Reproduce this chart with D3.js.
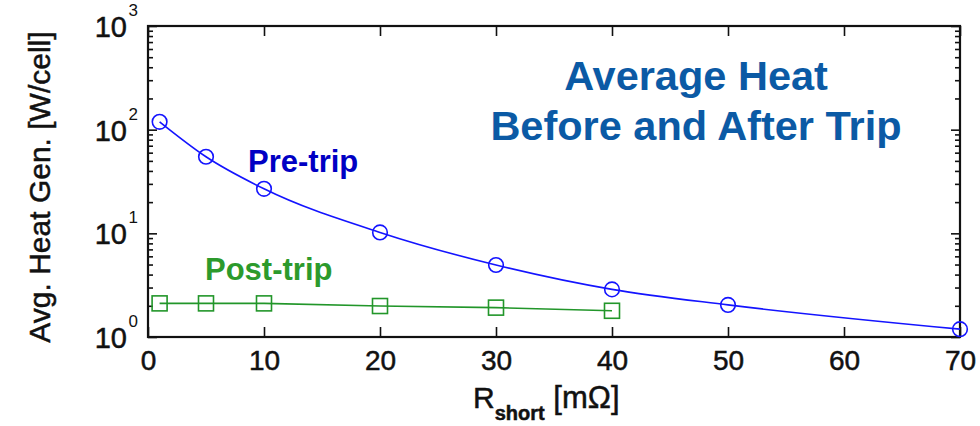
<!DOCTYPE html>
<html>
<head>
<meta charset="utf-8">
<script src="https://cdn.jsdelivr.net/npm/d3@7"></script>
<style>
  html, body { margin: 0; padding: 0; background: #fff; }
  svg { display: block; }
  text { font-family: "Liberation Sans", Arial, sans-serif; }
  .heavy { stroke: #111; stroke-width: 0.5px; }
</style>
</head>
<body>
<svg id="chart" width="980" height="426"></svg>
<script>
// ---- data ----
const preTripR = [1, 5, 10, 20, 30, 40, 50, 70];
const preTripHeat = [119, 54.8, 26.9, 10.2, 4.95, 2.88, 2.04, 1.19];
const postTripR = [1, 5, 10, 20, 30, 40];
const postTripHeat = [2.11, 2.11, 2.11, 1.99, 1.92, 1.79];
const xTickValues = [0, 10, 20, 30, 40, 50, 60, 70];
const yMajorTicks = [1, 10, 100, 1000];
const yMinorTicks = [2,3,4,5,6,7,8,9,20,30,40,50,60,70,80,90,200,300,400,500,600,700,800,900];
const titleLines = ["Average Heat", "Before and After Trip"];
const preLabel = "Pre-trip";
const postLabel = "Post-trip";
const yTitle = "Avg. Heat Gen. [W/cell]";

// ---- layout ----
const L = 148, R = 960, T = 26, B = 337;
const svg = d3.select("#chart");
const x = d3.scaleLinear().domain([0, 70]).range([L, R]);
const y = d3.scaleLog().domain([1, 1000]).range([B, T]);

const blue = "#1414ff", green = "#22962a";

// plot box
svg.append("rect").attr("x", L).attr("y", T).attr("width", R - L).attr("height", B - T)
  .attr("fill", "none").attr("stroke", "#111").attr("stroke-width", 2.2);

function styleAxis(g) {
  g.select(".domain").remove();
  g.selectAll(".tick line").attr("stroke", "#111").attr("stroke-width", 1.6);
}

// x axes (ticks inward)
svg.append("g").attr("transform", `translate(0,${B})`)
  .call(d3.axisBottom(x).tickValues(xTickValues).tickSize(-10).tickPadding(13).tickFormat(d3.format("d")))
  .call(styleAxis)
  .call(g => g.selectAll("text").attr("font-size", 28).attr("fill", "#111").attr("class", "heavy")
    .attr("font-family", "Liberation Sans, Arial, sans-serif"));
svg.append("g").attr("transform", `translate(0,${T})`)
  .call(d3.axisTop(x).tickValues(xTickValues).tickSize(-10).tickFormat(""))
  .call(styleAxis);

// y axes major/minor inward
svg.append("g").attr("transform", `translate(${L},0)`)
  .call(d3.axisLeft(y).tickValues(yMajorTicks).tickSize(-9).tickFormat(""))
  .call(styleAxis);
svg.append("g").attr("transform", `translate(${L},0)`)
  .call(d3.axisLeft(y).tickValues(yMinorTicks).tickSize(-5).tickFormat(""))
  .call(styleAxis);
svg.append("g").attr("transform", `translate(${R},0)`)
  .call(d3.axisRight(y).tickValues(yMajorTicks).tickSize(-9).tickFormat(""))
  .call(styleAxis);
svg.append("g").attr("transform", `translate(${R},0)`)
  .call(d3.axisRight(y).tickValues(yMinorTicks).tickSize(-5).tickFormat(""))
  .call(styleAxis);

// y tick labels 10^n
const yl = svg.append("g");
yMajorTicks.forEach(v => {
  const yy = y(v);
  yl.append("text").attr("class", "heavy").attr("x", 127).attr("y", yy + 11).attr("text-anchor", "end")
    .attr("font-size", 29).attr("fill", "#111").text("10");
  yl.append("text").attr("x", 128.5).attr("y", yy - 10).attr("text-anchor", "start")
    .attr("font-size", 17).attr("fill", "#111").text(String(Math.round(Math.log10(v))));
});

// axis titles
svg.append("text").attr("class", "heavy").attr("transform", "translate(50,187) rotate(-90)")
  .attr("text-anchor", "middle").attr("font-size", 30).attr("fill", "#111").text(yTitle);
const xt = svg.append("text").attr("class", "heavy").attr("x", 473).attr("y", 408).attr("fill", "#111").attr("font-size", 30);
xt.append("tspan").text("R");
xt.append("tspan").attr("dy", 12).attr("font-size", 20).attr("font-weight", "bold").text("short");
xt.append("tspan").attr("dy", -12).attr("font-size", 31).text(" [m\u03A9]");

// lines
const preData = preTripR.map((r, i) => [r, preTripHeat[i]]);
const postData = postTripR.map((r, i) => [r, postTripHeat[i]]);
const lineGen = d3.line().x(d => x(d[0])).y(d => y(d[1]));

svg.append("path").datum(preData)
  .attr("d", lineGen.curve(d3.curveMonotoneX))
  .attr("fill", "none").attr("stroke", blue).attr("stroke-width", 1.6);
svg.append("path").datum(postData)
  .attr("d", d3.line().x(d => x(d[0])).y(d => y(d[1]))(postData))
  .attr("fill", "none").attr("stroke", green).attr("stroke-width", 1.6);

// markers
svg.append("g").selectAll("circle").data(preData).join("circle")
  .attr("cx", d => x(d[0])).attr("cy", d => y(d[1])).attr("r", 7.3)
  .attr("fill", "none").attr("stroke", blue).attr("stroke-width", 1.6);
svg.append("g").selectAll("rect").data(postData).join("rect")
  .attr("x", d => x(d[0]) - 7.5).attr("y", d => y(d[1]) - 7.5)
  .attr("width", 15).attr("height", 15)
  .attr("fill", "none").attr("stroke", green).attr("stroke-width", 1.6);

// annotations
svg.append("text").attr("x", 248).attr("y", 172).attr("font-size", 31).attr("font-weight", "bold")
  .attr("fill", "#0000c4").text(preLabel);
svg.append("text").attr("x", 205).attr("y", 280).attr("font-size", 31).attr("font-weight", "bold")
  .attr("fill", "#2c9a2c").text(postLabel);

// title
svg.append("g").selectAll("text").data(titleLines).join("text")
  .attr("x", 696).attr("y", (d, i) => 90 + i * 50)
  .attr("text-anchor", "middle").attr("font-size", 41.5).attr("font-weight", "bold")
  .attr("fill", "#0b5aa5").text(d => d);
</script>
</body>
</html>
